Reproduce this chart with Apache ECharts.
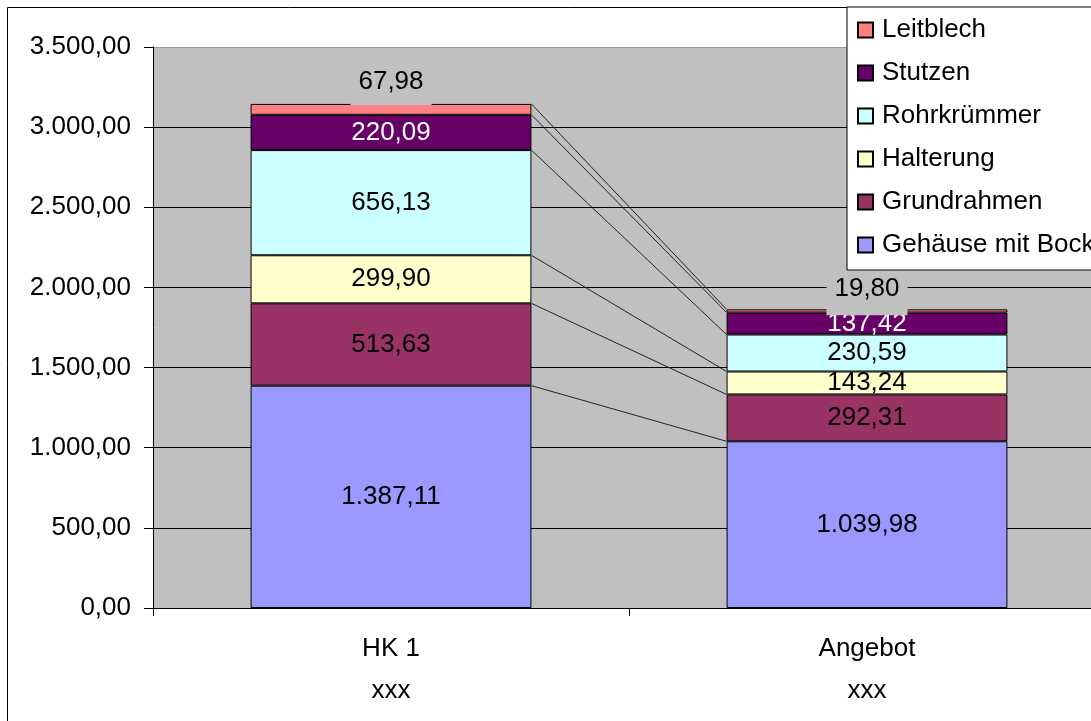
<!DOCTYPE html>
<html>
<head>
<meta charset="utf-8">
<script src="https://cdn.jsdelivr.net/npm/echarts@6/dist/echarts.min.js"></script>
<style>
  html, body { margin: 0; padding: 0; background: #fff; overflow: hidden; width: 1091px; height: 721px; }
  /* the drawing runs past the right edge of the window, like a cropped sheet */
  #chart { width: 1130px; height: 721px; }
</style>
</head>
<body>
<div id="chart"></div>
<script>
// Cost breakdown per assembly group, two variants
const categories = ['HK 1', 'Angebot'];
const categoryNotes = ['xxx', 'xxx'];

const gehaeuseMitBock = [1387.11, 1039.98];
const grundrahmen     = [513.63, 292.31];
const halterung       = [299.90, 143.24];
const rohrkruemmer    = [656.13, 230.59];
const stutzen         = [220.09, 137.42];
const leitblech       = [67.98, 19.80];

const yMin = 0;
const yMax = 3500;
const yStep = 500;

const FONT = "'Liberation Sans', Arial, sans-serif";
const BAR_RATIO = 0.59;

// German number format: 1.387,11
function deNum(v) {
  const parts = Number(v).toFixed(2).split('.');
  const intPart = parts[0].replace(/\B(?=(\d{3})+(?!\d))/g, '.');
  return intPart + ',' + parts[1];
}

const stackDefs = [
  { name: 'Gehäuse mit Bock', data: gehaeuseMitBock, color: '#9999FF', text: '#000' },
  { name: 'Grundrahmen',      data: grundrahmen,     color: '#993366', text: '#000' },
  { name: 'Halterung',        data: halterung,       color: '#FFFFCC', text: '#000' },
  { name: 'Rohrkrümmer',      data: rohrkruemmer,    color: '#CCFFFF', text: '#000' },
  { name: 'Stutzen',          data: stutzen,         color: '#660066', text: '#fff' },
  { name: 'Leitblech',        data: leitblech,       color: '#FF8080', text: '#000' }
];

// cumulative tops of each stack level, used for the series connector lines
const levelTops = [];
(function () {
  let a = 0, b = 0;
  stackDefs.forEach(function (d) {
    a += d.data[0];
    b += d.data[1];
    levelTops.push([0, a, b]);
  });
})();

const barSeries = stackDefs.map(function (d, idx) {
  const isTop = idx === stackDefs.length - 1;
  const s = {
    name: d.name,
    type: 'bar',
    stack: 'total',
    barWidth: (BAR_RATIO * 100) + '%',
    itemStyle: { color: d.color, borderColor: '#000', borderWidth: 1 },
    label: {
      show: true,
      position: 'inside',
      color: d.text,
      fontFamily: FONT,
      fontSize: 26,
      formatter: function (p) { return deNum(p.value); }
    },
    emphasis: { disabled: true },
    data: d.data.slice()
  };
  if (isTop) {
    s.label = {
      show: true,
      position: 'top',
      distance: 0,
      color: '#000',
      fontFamily: FONT,
      fontSize: 26,
      lineHeight: 26,
      backgroundColor: '#C0C0C0',
      formatter: function (p) { return deNum(p.value); }
    };
    s.data = [
      { value: d.data[0], label: { padding: [4, 8, 10, 8], offset: [0, 1] } },
      { value: d.data[1], label: { padding: [4, 8, 14, 8], offset: [0, 6] } }
    ];
  }
  return s;
});

const connectorSeries = {
  type: 'custom',
  silent: true,
  z: 1,
  encode: { x: 0, y: [1, 2] },
  renderItem: function (params, api) {
    const a = api.coord([0, api.value(1)]);
    const b = api.coord([1, api.value(2)]);
    const half = api.size([1, 0])[0] * BAR_RATIO / 2;
    return {
      type: 'line',
      shape: { x1: a[0] + half, y1: a[1], x2: b[0] - half, y2: b[1] },
      style: { stroke: '#222', lineWidth: 1 }
    };
  },
  data: levelTops
};

const chart = echarts.init(document.getElementById('chart'), null, { renderer: 'canvas' });

chart.setOption({
  animation: false,
  backgroundColor: '#fff',
  textStyle: { fontFamily: FONT },
  graphic: [{
    type: 'rect',
    z: -10,
    shape: { x: 7.5, y: 7.5, width: 1200, height: 800 },
    style: { fill: 'none', stroke: '#000', lineWidth: 1 }
  }],
  grid: {
    left: 153, top: 47, width: 952, height: 561,
    show: true,
    backgroundColor: '#C0C0C0',
    borderWidth: 0
  },
  legend: {
    orient: 'vertical',
    left: 847,
    top: 7,
    backgroundColor: '#fff',
    borderColor: '#000',
    borderWidth: 1,
    borderRadius: 0,
    padding: [10, 30, 12, 10],
    itemGap: 17,
    itemWidth: 15,
    itemHeight: 15,
    icon: 'rect',
    selectedMode: false,
    textStyle: {
      fontFamily: FONT,
      fontSize: 26,
      lineHeight: 26,
      color: '#000',
      padding: [0, 0, 0, 4]
    },
    data: stackDefs.map(function (d) { return d.name; }).reverse()
  },
  xAxis: {
    type: 'category',
    data: categories.map(function (c, i) { return c + '\n' + categoryNotes[i]; }),
    boundaryGap: true,
    axisLine: { show: true, lineStyle: { color: '#000', width: 1 } },
    axisTick: { show: true, length: 8, alignWithLabel: false, lineStyle: { color: '#000' } },
    axisLabel: { color: '#000', fontFamily: FONT, fontSize: 26, lineHeight: 42, margin: 20 },
    splitLine: { show: false }
  },
  yAxis: {
    type: 'value',
    min: yMin,
    max: yMax,
    interval: yStep,
    axisLine: { show: true, lineStyle: { color: '#000', width: 1 } },
    axisTick: { show: true, length: 9, lineStyle: { color: '#000' } },
    axisLabel: {
      color: '#000',
      fontFamily: FONT,
      fontSize: 26,
      margin: 22,
      formatter: function (v) { return deNum(v); }
    },
    splitLine: {
      show: true,
      lineStyle: { color: ['#000', '#000', '#000', '#000', '#000', '#000', '#000', '#9a9a9a'], width: 1 }
    }
  },
  series: [connectorSeries].concat(barSeries)
});
</script>
</body>
</html>
